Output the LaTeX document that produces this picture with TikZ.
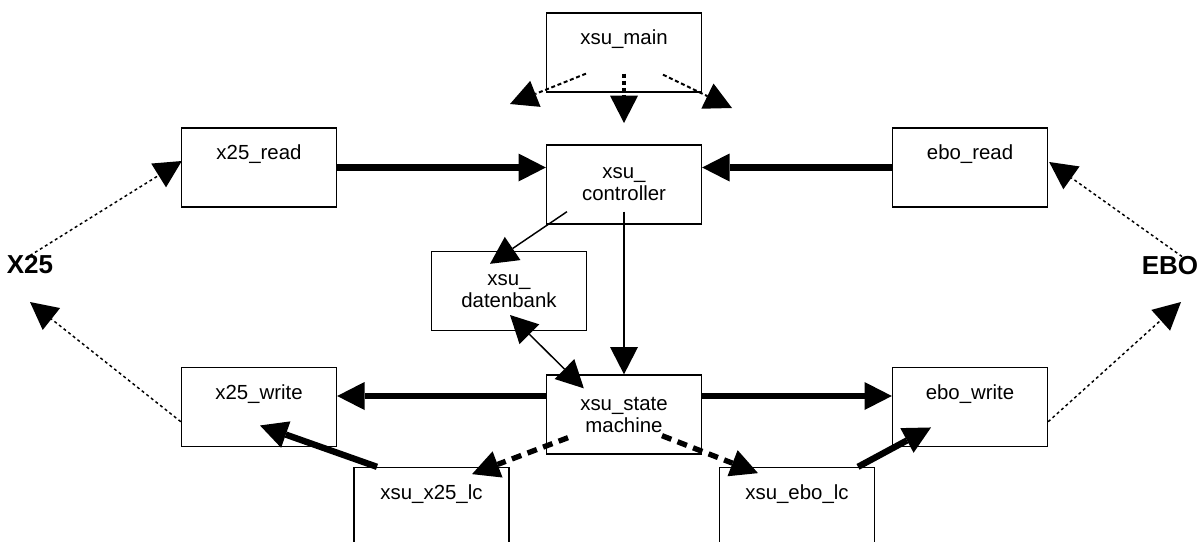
\documentclass[tikz,border=0pt]{standalone}
\usepackage{fontspec}
\setmainfont{Liberation Sans}
\usetikzlibrary{arrows.meta}

\begin{document}
\begin{tikzpicture}[x=0.75pt,y=-0.75pt,>={Triangle[length=20.5pt,width=21pt,line width=0pt]}]
		\tikzstyle{ModulStyle}=[draw,line width=1pt,minimum width=116.25pt,minimum height=59.25pt,align=center,inner sep=0pt,font=\fontsize{15.3}{16.5}\selectfont]
		\tikzstyle{ExtStyle}=[font=\bfseries\fontsize{19.5}{22}\selectfont,inner sep=0pt]
		\tikzstyle{ThickEdge}=[->,line width=4.8pt]
		\tikzstyle{MidEdge}=[->,line width=2.2pt]
		\tikzstyle{ThinEdge}=[->,line width=1.1pt]
		\tikzstyle{DotEdge}=[->,line width=1.1pt,dash pattern=on 2.2pt off 2.2pt]
		\tikzstyle{MainEdge}=[->,line width=1.5pt,dash pattern=on 3pt off 2pt]
		\tikzstyle{DashEdge}=[->,line width=4pt,dash pattern=on 7.5pt off 5pt]
		\useasboundingbox (0,0) rectangle (1202,542);
		\clip (0,0) rectangle (1202,542);
		% module
		\node[ModulStyle] (main) at (624,52.5) {xsu\_main\\[6pt]\mbox{}};
		\node[ModulStyle] (xread) at (259,167.5) {x25\_read\\[6pt]\mbox{}};
		\node[ModulStyle] (ctrl) at (624,184.5) {xsu\_\\controller};
		\node[ModulStyle] (eread) at (970,167.5) {ebo\_read\\[6pt]\mbox{}};
		\node[ModulStyle] (db) at (509,291) {xsu\_\\datenbank};
		\node[ModulStyle] (sm) at (624,414.5) {xsu\_state\\machine};
		\node[ModulStyle] (xwrite) at (259,407) {x25\_write\\[6pt]\mbox{}};
		\node[ModulStyle] (ewrite) at (970,407) {ebo\_write\\[6pt]\mbox{}};
		\node[ModulStyle] (xlc) at (431.5,507) {xsu\_x25\_lc\\[6pt]\mbox{}};
		\node[ModulStyle] (elc) at (797,507) {xsu\_ebo\_lc\\[6pt]\mbox{}};
		\node[ExtStyle] (X25) at (30,265) {X25};
		\node[ExtStyle] (EBO) at (1170,266) {EBO};
		\coordinate (mL) at (510,104);
		\coordinate (mM) at (624,123);
		\coordinate (mR) at (732,108);
		\coordinate (xE) at (30,302);
		\coordinate (eE) at (1181,302);
		% xsu_main
		\draw[MainEdge] ([shift={(-38,-19)}]main.south) -- (mL);
		\draw[MainEdge,line width=2.6pt,dash pattern=on 3.5pt off 1.8pt] ([shift={(0,-19)}]main.south) -- (mM);
		\draw[MainEdge] ([shift={(39,-18)}]main.south) -- (mR);
		% lesen
		\draw[ThickEdge] (xread.east) -- (xread.east -| ctrl.west);
		\draw[ThickEdge] (eread.west) -- (eread.west -| ctrl.east);
		% controller
		\draw[ThinEdge] ([shift={(-57,-13)}]ctrl.south) -- ([shift={(-19,13)}]db.north);
		\draw[MidEdge] ([shift={(0,-13)}]ctrl.south) -- (sm.north);
		\draw[ThinEdge,<->] ([shift={(1,24)}]db.center) -- ([shift={(38,14)}]sm.north west);
		% schreiben
		\draw[ThickEdge] ([shift={(0,-18.5)}]sm.west) -- ([shift={(0,-11)}]xwrite.east);
		\draw[ThickEdge] ([shift={(0,-18.5)}]sm.east) -- ([shift={(0,-11)}]ewrite.west);
		\draw[ThickEdge] ([shift={(-54.5,0)}]xlc.north) -- ([shift={(1,-21.7)}]xwrite.south);
		\draw[ThickEdge] ([shift={(61,0)}]elc.north) -- ([shift={(-39,-19.7)}]ewrite.south);
		\draw[DashEdge] ([shift={(-56,-17)}]sm.south) -- ([shift={(40.5,7.3)}]xlc.north);
		\draw[DashEdge] ([shift={(38,-19)}]sm.south) -- ([shift={(-39,6.3)}]elc.north);
		% aussen
		\draw[DotEdge] (X25.north) -- ([shift={(1,-6.5)}]xread.west);
		\draw[DotEdge] ([shift={(0,14.7)}]xwrite.west) -- (xE);
		\draw[DotEdge] ([shift={(12,0)}]EBO.north) -- ([shift={(1,-5.5)}]eread.east);
		\draw[DotEdge] ([shift={(0,14.7)}]ewrite.east) -- (eE);
	\end{tikzpicture}
\end{document}
